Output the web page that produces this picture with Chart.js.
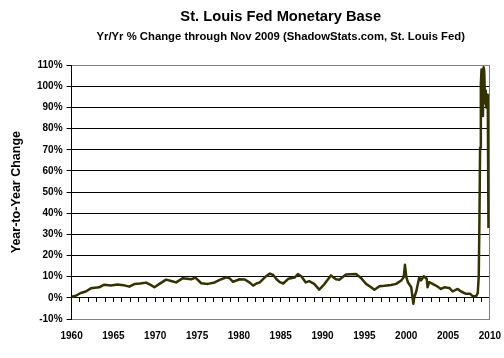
<!DOCTYPE html>
<html>
<head>
<meta charset="utf-8">
<script src="https://cdn.jsdelivr.net/npm/chart.js@4.4.1/dist/chart.umd.min.js"></script>
<style>
  html, body { margin: 0; padding: 0; background: #fff; }
  #wrap { width: 504px; height: 358px; }
</style>
</head>
<body>
<div id="wrap"><canvas id="baseCanvas" width="504" height="358"></canvas></div>
<script>
// fechas (año decimal) y cambio anual %
const fechas = [
  1960.0, 1960.5, 1961.1, 1961.7, 1962.3, 1963.3, 1963.9, 1964.7, 1965.5, 1966.2,
  1966.9, 1967.5, 1968.2, 1968.9, 1969.5, 1969.9, 1970.5, 1971.3, 1971.9, 1972.5,
  1973.3, 1974.3, 1974.8, 1975.5, 1976.3, 1977.1, 1977.9, 1978.5, 1978.9, 1979.3,
  1980.1, 1980.7, 1981.3, 1981.7, 1982.1, 1982.5, 1983.1, 1983.7, 1984.1, 1984.5,
  1984.9, 1985.3, 1985.9, 1986.65, 1987.05, 1987.45, 1988.0, 1988.4, 1989.0, 1989.6,
  1990.2, 1991.0, 1991.6, 1992.0, 1992.8, 1994.0, 1994.6, 1995.2, 1995.8, 1996.2,
  1996.8, 1997.4, 1998.2, 1998.8, 1999.4, 1999.7, 1999.85, 2000.0, 2000.2, 2000.6,
  2000.85, 2000.96, 2001.2, 2001.56, 2001.76, 2002.1, 2002.45, 2002.55, 2002.75, 2003.55,
  2004.15, 2004.55, 2005.15, 2005.55, 2006.15, 2006.55, 2007.15, 2007.65, 2007.95, 2008.35,
  2008.55, 2008.67, 2008.75, 2008.83, 2008.92, 2009.0, 2009.08, 2009.17, 2009.25, 2009.33,
  2009.42, 2009.5, 2009.58, 2009.67, 2009.75, 2009.83
];
const cambioAnual = [
  0.5, 1.0, 2.3, 3.0, 4.5, 5.0, 6.2, 5.8, 6.3, 6.0,
  5.3, 6.5, 6.8, 7.2, 6.0, 5.0, 6.6, 8.6, 8.0, 7.3,
  9.3, 8.8, 9.6, 6.9, 6.6, 7.3, 8.8, 9.7, 9.2, 7.6,
  8.8, 8.7, 7.2, 5.8, 6.8, 7.3, 9.7, 11.5, 10.8, 8.8,
  7.4, 6.8, 9.0, 9.6, 11.2, 10.2, 7.3, 7.9, 6.6, 3.9,
  6.4, 10.6, 8.8, 8.6, 11.0, 11.3, 9.4, 6.6, 5.0, 3.8,
  5.5, 5.7, 6.1, 6.6, 8.2, 9.7, 15.6, 10.0, 7.4, 5.0,
  -2.8, 0.3, 3.0, 9.7, 8.2, 10.2, 9.0, 5.0, 7.4, 5.8,
  4.2, 5.0, 4.7, 3.0, 4.2, 3.0, 1.9, 1.9, 0.8, 0.8,
  2.2, 10, 36, 71, 101, 108, 95, 86, 109, 107,
  92, 98, 90, 96, 94, 33
];

// ejes
const yMin = -10;
const yMax = 110;
const yPaso = 10;
const xMin = 1960;
const xMax = 2010;
const xPaso = 5;

const puntos = fechas.map((f, i) => ({ x: f, y: cambioAnual[i] }));

const gris = '#808080';
const fuente = 'Arial, "Liberation Sans", sans-serif';

const ctx = document.getElementById('baseCanvas').getContext('2d');

const config = {
  type: 'line',
  data: {
    datasets: [{
      label: 'Monetary Base Yr/Yr',
      data: puntos,
      borderColor: '#333300',
      borderWidth: 2.5,
      borderJoinStyle: 'round',
      pointRadius: 0,
      tension: 0,
      fill: false
    }]
  },
  options: {
    responsive: false,
    animation: false,
    layout: { padding: { left: 0, right: 0, top: 0, bottom: 13 } },
    plugins: {
      legend: { display: false },
      tooltip: { enabled: false },
      title: {
        display: true,
        text: 'St. Louis Fed Monetary Base',
        fullSize: false,
        color: '#000',
        font: { family: fuente, size: 14.7, weight: 'bold' },
        padding: { top: 8, bottom: 3 }
      },
      subtitle: {
        display: true,
        text: 'Yr/Yr % Change through Nov 2009 (ShadowStats.com, St. Louis Fed)',
        fullSize: false,
        color: '#000',
        font: { family: fuente, size: 11.3, weight: 'bold' },
        padding: { top: 1, bottom: 22 }
      }
    },
    scales: {
      x: {
        type: 'linear',
        min: xMin,
        max: xMax,
        position: 'bottom',
        border: { display: true, color: gris, width: 1 },
        grid: { display: true, drawOnChartArea: false, drawTicks: true, tickLength: 8, tickColor: 'rgba(0,0,0,0)' },
        ticks: {
          stepSize: xPaso,
          padding: 3,
          color: '#000',
          font: { family: fuente, size: 10, weight: 'bold' },
          callback: (v) => String(v),
          maxRotation: 0
        }
      },
      xAnios: {
        type: 'linear',
        axis: 'x',
        min: xMin,
        max: xMax,
        position: { y: 0 },
        border: { display: true, color: '#000', width: 1 },
        grid: { display: true, drawOnChartArea: false, tickLength: 4, color: '#000' },
        ticks: { stepSize: 1, autoSkip: false, padding: 0, callback: () => '', font: { size: 1 } }
      },
      y: {
        min: yMin,
        max: yMax,
        border: { display: true, color: '#000', width: 1 },
        grid: {
          color: (c) => (c.tick && (c.tick.value === yMax || c.tick.value === yMin)) ? gris : '#000',
          tickColor: '#000',
          tickLength: 5,
          lineWidth: 1
        },
        ticks: {
          stepSize: yPaso,
          padding: 4,
          color: '#000',
          font: { family: fuente, size: 10, weight: 'bold' },
          callback: (v) => v + '%'
        },
        title: {
          display: true,
          text: 'Year-to-Year Change',
          color: '#000',
          font: { family: fuente, size: 12.5, weight: 'bold' },
          padding: { top: 9, bottom: 9 }
        }
      },
      yDer: {
        type: 'linear',
        position: 'right',
        min: yMin,
        max: yMax,
        border: { display: true, color: gris, width: 1 },
        grid: { drawOnChartArea: false, drawTicks: false },
        ticks: { display: false }
      }
    }
  }
};

const graficoBase = new Chart(ctx, config);
</script>
</body>
</html>
